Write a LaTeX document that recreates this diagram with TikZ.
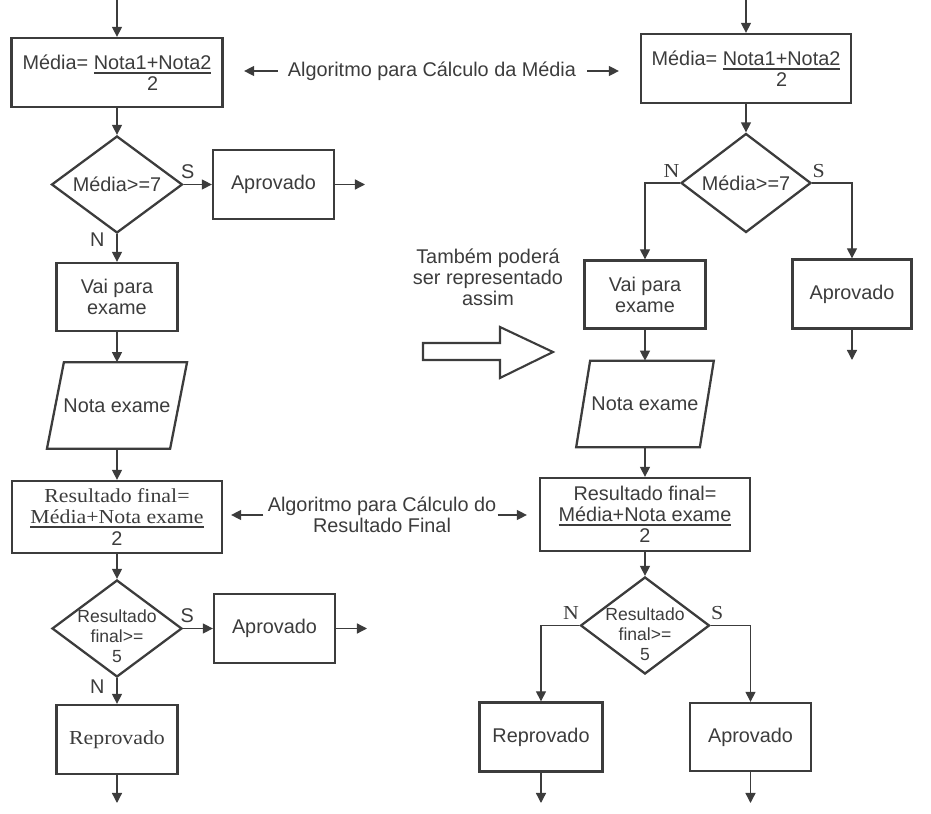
\documentclass[tikz,border=0pt]{standalone}
\usepackage{fontspec}
\setmainfont{Liberation Sans}
\newfontfamily\serifa[FakeStretch=1.1]{Liberation Serif}
\usetikzlibrary{shapes.geometric,arrows.meta}
\definecolor{tinta}{HTML}{3C3C3C}
\newcommand{\sublinha}[1]{\setbox0\hbox{#1}\rlap{\rule[-2.2pt]{\wd0}{0.9pt}}\box0}
\tikzset{
	borda/.style={draw=tinta, line width=1.3pt},
	caixa/.style={borda, rectangle, inner sep=0pt, align=center},
	decisao/.style={borda, diamond, inner sep=0pt},
	leitura/.style={rectangle, inner sep=0pt},
	fluxo/.style={draw=tinta, line width=0.75pt, -{Triangle[length=5.7pt,width=5.7pt]}},
	ramo/.style={fluxo, line width=0.6pt},
	letra/.style={inner sep=0pt, text=tinta},
}
\begin{document}
\begin{tikzpicture}[x=0.02cm, y=-0.02cm, font=\fontsize{11.3}{12}\selectfont, text=tinta]
	\useasboundingbox (0,0) rectangle (931,814);
	% fluxograma da esquerda
	\coordinate (in1) at (117,0);
	\node[caixa, minimum width=4.22cm, minimum height=1.38cm, text height=12.5pt] (media1) at (117,72.5) {Média= \begin{tabular}[t]{@{}c@{}}\sublinha{Nota1+Nota2}\\2\end{tabular}};
	\node[decisao, minimum width=2.62cm, minimum height=1.94cm, label={[name=t1]center:Média>=7}] (dec1) at (117,184.5) {};
	\node[caixa, minimum width=2.42cm, minimum height=1.38cm] (apr1) at (273.5,184.5) {Aprovado};
	\coordinate (out1) at (365,184.5);
	\node[caixa, minimum width=2.42cm, minimum height=1.36cm] (exame1) at (117,297) {Vai para\\exame};
	\node[leitura, minimum width=2.45cm, minimum height=1.72cm] (nota1) at (117,405.5) {Nota exame};
	\draw[borda] ([xshift=0.17cm]nota1.north west) -- ([xshift=0.17cm]nota1.north east) -- ([xshift=-0.17cm]nota1.south east) -- ([xshift=-0.17cm]nota1.south west) -- cycle;
	\node[caixa, minimum width=4.2cm, minimum height=1.44cm] (res1) at (117,517) {{\serifa Resultado final=}\\{\serifa\sublinha{Média+Nota exame}}\\2};
	\node[decisao, minimum width=2.6cm, minimum height=1.94cm, label={[name=t2, align=center, font=\fontsize{10}{11.3}\selectfont, yshift=-0.16cm]center:Resultado\\final>=\\5}] (dec2) at (117,628.5) {};
	\node[caixa, minimum width=2.42cm, minimum height=1.38cm] (apr2) at (274.5,628.5) {Aprovado};
	\coordinate (out2) at (367,628.5);
	\node[caixa, minimum width=2.42cm, minimum height=1.38cm] (rep1) at (117,739.5) {\serifa Reprovado};
	\coordinate (out3) at (117,803);

	\draw[fluxo] (in1) -- (media1);
	\draw[fluxo] (media1) -- (dec1);
	\draw[fluxo] (dec1) -- node[letra, pos=0, above, xshift=0.08cm, yshift=0.1cm] (s1) {S} (apr1);
	\draw[fluxo] (apr1) -- (out1);
	\draw[fluxo] (dec1) -- node[letra, pos=0, left=0.24cm, yshift=-0.11cm] (n1) {N} (exame1);
	\draw[fluxo] (exame1) -- (nota1);
	\draw[fluxo] (nota1) -- (res1);
	\draw[fluxo] (res1) -- (dec2);
	\draw[fluxo] (dec2) -- node[letra, pos=0, above, xshift=0.08cm, yshift=0.1cm] (s2) {S} (apr2);
	\draw[fluxo] (apr2) -- (out2);
	\draw[fluxo] (dec2) -- node[letra, pos=0, left=0.24cm, yshift=-0.18cm] (n2) {N} (rep1);
	\draw[fluxo] (rep1) -- (out3);

	% fluxograma da direita
	\coordinate (in2) at (746,0);
	\node[caixa, minimum width=4.2cm, minimum height=1.38cm, text height=12.5pt] (media2) at (746,68.5) {Média= \begin{tabular}[t]{@{}c@{}}\sublinha{Nota1+Nota2}\\2\end{tabular}};
	\node[decisao, minimum width=2.6cm, minimum height=1.98cm, label={[name=t3]center:Média>=7}] (dec3) at (746,183) {};
	\node[caixa, minimum width=2.42cm, minimum height=1.36cm] (exame2) at (645,294.5) {Vai para\\exame};
	\node[caixa, minimum width=2.38cm, minimum height=1.38cm] (apr3) at (852,294) {Aprovado};
	\coordinate (out4) at (852,360);
	\node[leitura, minimum width=2.46cm, minimum height=1.72cm] (nota2) at (645,404) {Nota exame};
	\draw[borda] ([xshift=0.14cm]nota2.north west) -- ([xshift=0.14cm]nota2.north east) -- ([xshift=-0.14cm]nota2.south east) -- ([xshift=-0.14cm]nota2.south west) -- cycle;
	\node[caixa, minimum width=4.2cm, minimum height=1.46cm] (res2) at (645,514.5) {Resultado final=\\\sublinha{Média+Nota exame}\\2};
	\node[decisao, minimum width=2.58cm, minimum height=1.94cm, label={[name=t4, align=center, font=\fontsize{10}{11.3}\selectfont, yshift=-0.18cm]center:Resultado\\final>=\\5}] (dec4) at (645,625.5) {};
	\node[caixa, minimum width=2.46cm, minimum height=1.38cm] (rep2) at (541,737) {Reprovado};
	\node[caixa, minimum width=2.42cm, minimum height=1.36cm] (apr4) at (750.5,737) {Aprovado};
	\coordinate (out5) at (541,803);
	\coordinate (out6) at (750.5,803);

	\draw[fluxo] (in2) -- (media2);
	\draw[fluxo] (media2) -- (dec3);
	\draw[ramo] (dec3.west) -| node[letra, pos=0, above left, yshift=0.1cm] (n3) {\serifa N} (exame2.north);
	\draw[ramo] (dec3.east) -| node[letra, pos=0, above right, yshift=0.1cm] (s3) {\serifa S} (apr3.north);
	\draw[fluxo] (apr3) -- (out4);
	\draw[fluxo] (exame2) -- (nota2);
	\draw[fluxo] (nota2) -- (res2);
	\draw[fluxo] (res2) -- (dec4);
	\draw[ramo] (dec4.west) -| node[letra, pos=0, above left, yshift=0.1cm] (n4) {\serifa N} (rep2.north);
	\draw[ramo] (dec4.east) -| node[letra, pos=0, above right, yshift=0.1cm] (s4) {\serifa S} (apr4.north);
	\draw[fluxo] (rep2) -- (out5);
	\draw[fluxo] (apr4) -- (out6);

	% legendas do meio
	\node[letra] (alg1) at (432,71) {Algoritmo para Cálculo da Média};
	\draw[fluxo, shorten <=0.2cm, shorten >=0.41cm] (alg1.west) -- (alg1.west -| media1.east);
	\draw[fluxo, shorten <=0.22cm, shorten >=0.42cm] (alg1.east) -- (alg1.east -| media2.west);
	\node[letra, align=center] (alg2) at (382,515) {Algoritmo para Cálculo do\\Resultado Final};
	\draw[fluxo, shorten <=0.08cm, shorten >=0.16cm] (alg2.west) -- (alg2.west -| res1.east);
	\draw[fluxo, shorten <=0.02cm, shorten >=0.24cm] (alg2.east) -- (alg2.east -| res2.west);
	\node[letra, align=center] (obs) at (488,277) {Também poderá\\ser representado\\assim};
	\draw[tinta, line width=1.2pt] (423,343) -- (500,343) -- (500,327) -- (553,352) -- (500,378) -- (500,360) -- (423,360) -- cycle;
\end{tikzpicture}
\end{document}
